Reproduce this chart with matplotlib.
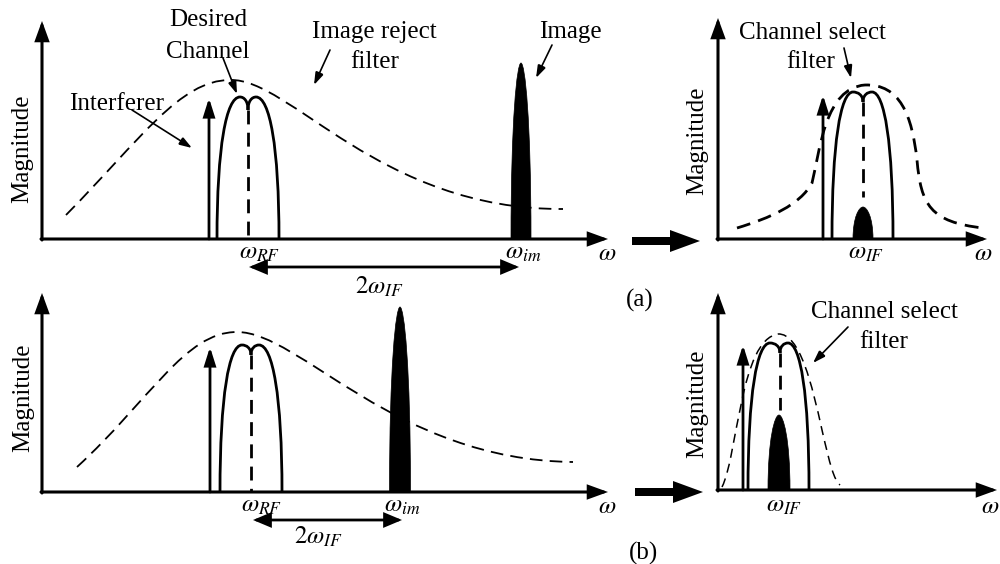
import numpy as np
import matplotlib
matplotlib.use("Agg")
import matplotlib.pyplot as plt
from matplotlib.path import Path
from matplotlib.patches import PathPatch, FancyArrowPatch

plt.rcParams['font.family'] = ['Liberation Serif', 'DejaVu Serif']
plt.rcParams['mathtext.fontset'] = 'stix'

# four panels: top-left, top-right, bottom-left, bottom-right (picture pixel coords)
axis_origin = [(42, 239), (718, 239), (42, 492), (718, 490)]
axis_top = [21, 18, 293, 293]
axis_end = [608, 987, 608, 997]

# channel lobes: left edge, left peak, dip, right peak, right edge
lobe_x = [[217, 240, 248, 256, 279],
          [832, 853, 863, 872, 893],
          [220, 242, 251, 259, 282],
          [748, 770, 780, 788, 809]]
lobe_peak = [97, 92, 345, 343]
lobe_dip = [110, 102, 355, 353]
center_dash_end = [239, 197, 492, 410]

interferer_x = [209, 823, 210, 743]
interferer_top = [98, 95, 347, 345]

# filled image signal: centre, half width, top
image_x = [521, 863, 400, 779]
image_halfw = [10, 10, 10.5, 11]
image_top = [63, 207, 307, 415]

# filter responses as bezier control points
tl_filter = [(66, 215), (140, 140), (180, 80), (230, 80), (290, 78), (380, 210), (563, 209)]
tr_filter = [(737, 228), (770, 218), (800, 205), (812, 183), (820, 150), (825, 88), (865, 85),
             (900, 84), (912, 115), (917, 160), (921, 205), (930, 222), (983, 228)]
bl_filter = [(77, 467), (150, 400), (185, 332), (237, 332), (300, 332), (395, 460), (573, 462)]
br_filter = [(722, 487), (738, 455), (740, 340), (778, 334), (800, 333), (812, 385), (822, 430),
             (830, 465), (834, 480), (840, 485)]
filters = [tl_filter, tr_filter, bl_filter, br_filter]
filter_lw = [1.3, 2.0, 1.3, 1.1]
filter_dash = [(7, 4), (5, 3), (7, 4), (6, 4)]

mag_pos = [(22, 149), (697, 141), (23, 398), (697, 404)]
omega_pos = [(607, 243), (983, 243), (607, 496), (990, 496)]
wlo_labels = [r'$\omega_{RF}$', r'$\omega_{IF}$', r'$\omega_{RF}$', r'$\omega_{IF}$']
wlo_pos = [(260, 242), (866, 242), (262, 495), (784, 495)]
wim_pos = [(523, 242), (402, 495)]
span_x = [(249, 519), (253, 402)]
span_y = [267, 520]
span_text = [(379, 287), (318, 537)]

fig = plt.figure(figsize=(10, 5.64), dpi=100)
ax = fig.add_axes([0, 0, 1, 1])
ax.set_xlim(0, 1000)
ax.set_ylim(564, 0)
ax.axis('off')

FS = 18


def arrow(p0, p1, lw, hl, hw, style='-|>', z=3):
    ax.add_patch(FancyArrowPatch(p0, p1, arrowstyle=f'{style},head_length={hl},head_width={hw}',
                                 mutation_scale=10, lw=lw, color='k', shrinkA=0, shrinkB=0,
                                 zorder=z, joinstyle='miter'))


def lobe_path(xs, yb, yp, yd):
    x0, x1, x2, x3, x4 = xs
    h = yb - yp
    v = [(x0, yb),
         (x0, yp + 0.35 * h), (x0 + 0.4 * (x1 - x0), yp), (x1, yp),
         (x1 + 0.5 * (x2 - x1), yp), (x2, yp + 0.3 * (yd - yp)), (x2, yd),
         (x2, yp + 0.3 * (yd - yp)), (x3 - 0.5 * (x3 - x2), yp), (x3, yp),
         (x3 + 0.6 * (x4 - x3), yp), (x4, yp + 0.35 * h), (x4, yb)]
    return Path(v, [Path.MOVETO] + [Path.CURVE4] * 12)


def spike_path(xc, hw, top, base):
    c = base - 0.68 * (base - top)
    v = [(xc - hw, base), (xc - hw, c), (xc - 0.4 * hw, top), (xc, top),
         (xc + 0.4 * hw, top), (xc + hw, c), (xc + hw, base), (xc - hw, base)]
    codes = [Path.MOVETO] + [Path.CURVE4] * 6 + [Path.CLOSEPOLY]
    return Path(v, codes)


for i in range(4):
    ox, oy = axis_origin[i]
    # axes
    arrow((ox, oy + 1), (ox, axis_top[i]), 2.2, 1.1, 0.4, z=4)
    arrow((ox - 1, oy), (axis_end[i], oy), 2.2, 1.1, 0.4, z=4)
    ax.text(*mag_pos[i], 'Magnitude', rotation=90, ha='center', va='center', fontsize=FS)
    ax.text(*omega_pos[i], r'$\omega$', ha='center', va='top', fontsize=FS)
    ax.text(*wlo_pos[i], wlo_labels[i], ha='center', va='top', fontsize=FS)

    # filter
    pts = filters[i]
    fpath = Path(pts, [Path.MOVETO] + [Path.CURVE4] * (len(pts) - 1))
    ax.add_patch(PathPatch(fpath, fill=False, lw=filter_lw[i], ec='k',
                           linestyle=(0, filter_dash[i]), zorder=2))

    # channel
    ax.add_patch(PathPatch(lobe_path(lobe_x[i], oy, lobe_peak[i], lobe_dip[i]),
                           fill=False, lw=2.0, ec='k', zorder=3))
    ax.plot([lobe_x[i][2], lobe_x[i][2]], [lobe_dip[i], center_dash_end[i]],
            color='k', lw=2.0, linestyle=(0, (5, 3)), zorder=3)

    # interferer
    arrow((interferer_x[i], oy), (interferer_x[i], interferer_top[i]), 2.0, 1.05, 0.33)

    # image
    ax.add_patch(PathPatch(spike_path(image_x[i], image_halfw[i], image_top[i], oy),
                           fc='k', ec='k', lw=0.5, zorder=5))

for j in range(2):
    ax.text(*wim_pos[j], r'$\omega_{im}$', ha='center', va='top', fontsize=FS)
    arrow((span_x[j][0], span_y[j]), (span_x[j][1], span_y[j]), 2.0, 1.0, 0.42, style='<|-|>')
    ax.text(*span_text[j], r'$2\omega_{IF}$', ha='center', va='center', fontsize=FS)

# big arrows between rows
ax.arrow(632, 241, 68, 0, width=8, head_width=22, head_length=30,
         length_includes_head=True, color='k', lw=0)
ax.arrow(635, 492, 68, 0, width=8, head_width=22, head_length=30,
         length_includes_head=True, color='k', lw=0)

# annotations
ax.text(208, 20, 'Desired', ha='center', va='center', fontsize=FS)
ax.text(208, 52, 'Channel', ha='center', va='center', fontsize=FS)
ax.text(117, 104, 'Interferer', ha='center', va='center', fontsize=FS)
ax.text(374, 32, 'Image reject', ha='center', va='center', fontsize=FS)
ax.text(375, 62, 'filter', ha='center', va='center', fontsize=FS)
ax.text(570, 32, 'Image', ha='center', va='center', fontsize=FS)
ax.text(812, 33, 'Channel select', ha='center', va='center', fontsize=FS)
ax.text(811, 62, 'filter', ha='center', va='center', fontsize=FS)
ax.text(884, 312, 'Channel select', ha='center', va='center', fontsize=FS)
ax.text(884, 342, 'filter', ha='center', va='center', fontsize=FS)
ax.text(640, 300, '(a)', ha='center', va='center', fontsize=FS)
ax.text(643, 553, '(b)', ha='center', va='center', fontsize=FS)

arrow((132, 110), (192, 148), 1.2, 0.75, 0.25)
arrow((223, 58), (237, 94), 1.2, 0.75, 0.25)
arrow((330, 50), (314, 85), 1.2, 0.75, 0.25)
arrow((552, 45), (536, 78), 1.2, 0.75, 0.25)
arrow((844, 48), (851, 78), 1.2, 0.75, 0.25)
arrow((848, 327), (813, 363), 1.2, 0.75, 0.25)

fig.savefig('out.png', dpi=100)
